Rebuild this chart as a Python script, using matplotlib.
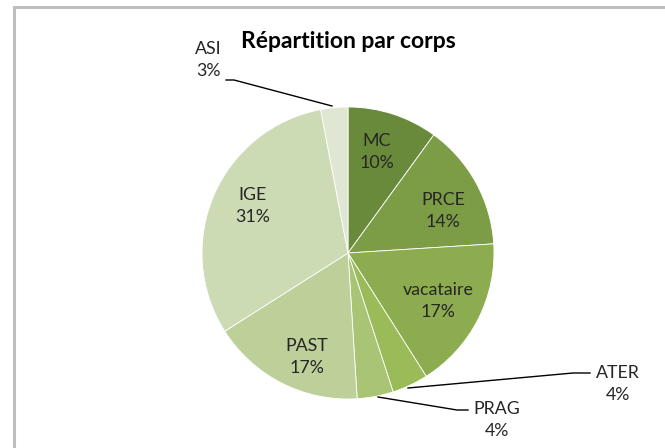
import matplotlib.pyplot as plt
from matplotlib.patches import Rectangle

# data
labels = ['MC', 'PRCE', 'vacataire', 'ATER', 'PRAG', 'PAST', 'IGE', 'ASI']
values = [10, 14, 17, 4, 4, 17, 31, 3]
colors = ['#6a8a3b', '#7c9c45', '#8cac4f', '#9bbb59', '#a9c475',
          '#bdd09a', '#cddbb5', '#dfe7d3']

W, H = 665, 448
cx, cy, R = 348, 253, 146  # pie centre and radius in pixels


def px(x, y):
    # pixel (from top-left) -> data coords (radius 1 = R px)
    return (x - cx) / R, (cy - y) / R


plt.rcParams['font.family'] = ['Lato', 'DejaVu Sans']
fig = plt.figure(figsize=(W / 100, H / 100), dpi=100)
ax = fig.add_axes([0, 0, 1, 1])

ax.pie(values, colors=colors, startangle=90, counterclock=False,
       wedgeprops=dict(edgecolor='white', linewidth=0.6))
ax.set_aspect('auto')
ax.set_xlim(-cx / R, (W - cx) / R)
ax.set_ylim(-(H - cy) / R, cy / R)
ax.axis('off')

# label positions (pixels) for each slice
label_pos = {
    'MC': (377, 152), 'PRCE': (443, 211), 'vacataire': (438, 301),
    'ATER': (618, 384), 'PRAG': (497, 420), 'PAST': (307, 357),
    'IGE': (253, 206), 'ASI': (208, 60),
}
total = sum(values)
for lab, v in zip(labels, values):
    x, y = px(*label_pos[lab])
    ax.text(x, y, f'{lab}\n{round(100 * v / total)}%', ha='center', va='center',
            fontsize=12.8, color='#262626', linespacing=1.45)

# leader lines
leaders = {
    'ASI': [(226, 80), (234, 80), (332, 106)],
    'ATER': [(408, 388), (573, 373), (590, 373)],
    'PRAG': [(378, 397), (457, 410), (468, 410)],
}
for pts in leaders.values():
    xs, ys = zip(*[px(*p) for p in pts])
    ax.plot(xs, ys, color='black', lw=1)

ax.text(*px(348, 42), 'Répartition par corps', ha='center', va='center',
        fontsize=16.5, fontweight='bold', color='black')

# chart area border
fig.patches.append(Rectangle((14 / W, -0.1), 1.2, 1.1 - 7 / H, fill=False,
                             edgecolor='#bfbfbf', lw=2.2,
                             transform=fig.transFigure, figure=fig))

fig.savefig('out.png', dpi=100)
